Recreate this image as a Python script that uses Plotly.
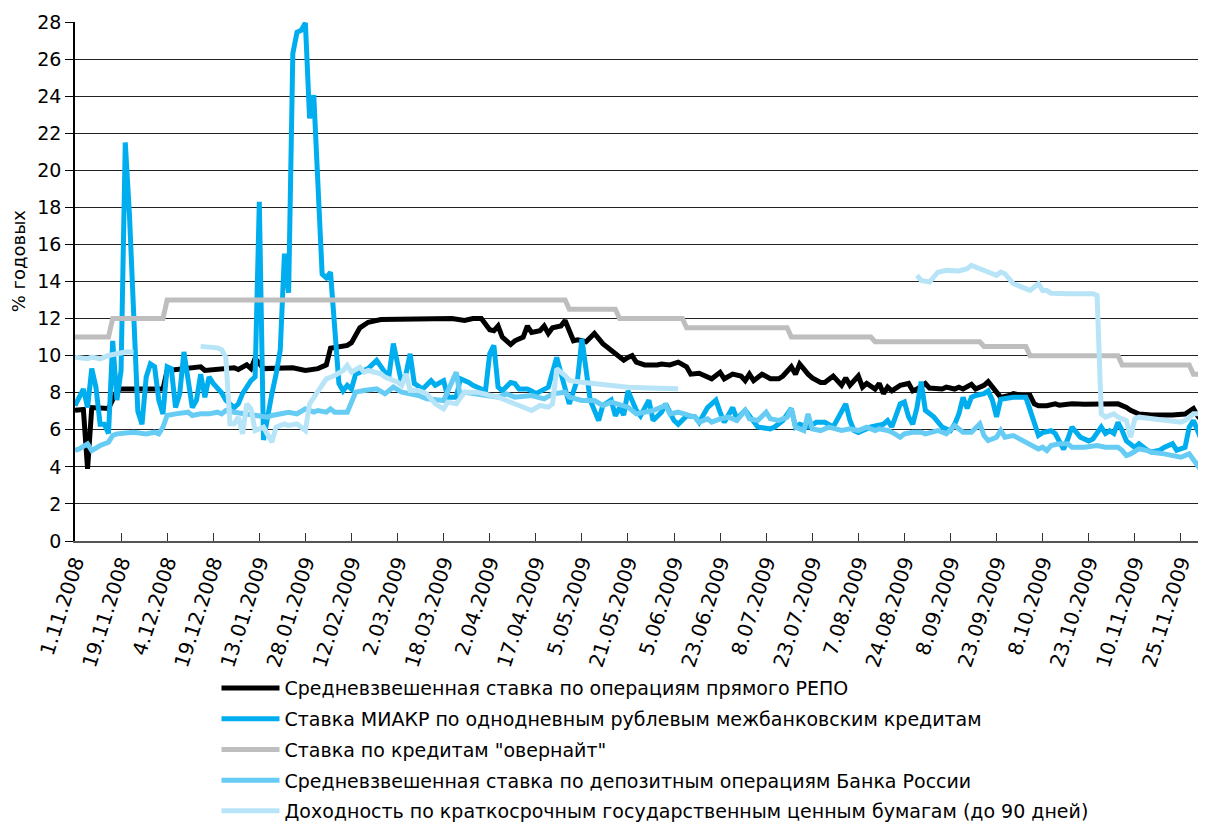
import plotly.graph_objects as go

# ---------------- data ----------------
tick_idx = list(range(0, 265, 11))
tick_labels = ["1.11.2008", "19.11.2008", "4.12.2008", "19.12.2008", "13.01.2009",
               "28.01.2009", "12.02.2009", "2.03.2009", "18.03.2009", "2.04.2009",
               "17.04.2009", "5.05.2009", "21.05.2009", "5.06.2009", "23.06.2009",
               "8.07.2009", "23.07.2009", "7.08.2009", "24.08.2009", "8.09.2009",
               "23.09.2009", "8.10.2009", "23.10.2009", "10.11.2009", "25.11.2009"]

repo_idx = [0, 2, 3, 4, 8, 10, 11, 14, 18, 21, 22, 28, 30, 31, 38, 39, 41, 42, 43, 45, 47, 52, 55, 58,
            60, 61, 65, 66, 68, 70, 73, 89, 90, 93, 95, 97, 99, 100, 101, 102, 104, 105, 107, 108,
            109, 111, 112, 113, 114, 116, 117, 119, 120, 122, 124, 126, 128, 129, 131, 132, 133, 134,
            136, 139, 140, 142, 144, 146, 147, 149, 151, 152, 154, 155, 157, 159, 160, 161, 162, 164,
            166, 168, 169, 171, 172, 173, 175, 176, 178, 179, 181, 182, 183, 184, 185, 187, 188, 189,
            191, 192, 193, 194, 195, 197, 199, 200, 201, 203, 204, 207, 208, 210, 211, 212, 214, 215,
            217, 218, 219, 221, 223, 224, 226, 228, 229, 230, 232, 234, 235, 238, 241, 245, 248, 249,
            251, 252, 254, 257, 262, 265, 267, 268, 269, 270]
repo_val = [7.05, 7.1, 3.9, 7.2, 7.15, 8.1, 8.2, 8.2, 8.25, 8.2, 9.2, 9.3, 9.4, 9.2, 9.35, 9.25, 9.5,
            9.3, 9.85, 9.3, 9.3, 9.35, 9.2, 9.3, 9.5, 10.4, 10.55, 10.7, 11.5, 11.8, 11.95, 12.05, 12.0,
            11.9, 12.0, 12.0, 11.4, 11.35, 11.6, 11.0, 10.6, 10.8, 11.0, 11.6, 11.25, 11.35, 11.6, 11.2,
            11.5, 11.6, 11.9, 10.8, 10.85, 10.75, 11.2, 10.65, 10.3, 10.1, 9.75, 9.9, 10.0, 9.65, 9.5,
            9.5, 9.55, 9.5, 9.65, 9.4, 9.0, 9.05, 8.85, 8.75, 9.1, 8.75, 9.0, 8.9, 8.65, 9.0, 8.65, 9.0,
            8.75, 8.75, 8.9, 9.4, 9.0, 9.55, 9.0, 8.8, 8.55, 8.55, 8.9, 8.65, 8.4, 8.8, 8.4, 8.9, 8.3,
            8.5, 8.2, 8.5, 7.95, 8.3, 8.1, 8.4, 8.5, 8.1, 8.2, 8.5, 8.25, 8.2, 8.3, 8.2, 8.3, 8.2, 8.45,
            8.2, 8.4, 8.6, 8.3, 7.75, 7.85, 7.95, 7.85, 7.85, 7.4, 7.3, 7.3, 7.4, 7.33, 7.4, 7.38, 7.4,
            7.38, 7.4, 7.2, 7.05, 6.85, 6.8, 6.8, 6.85, 7.15, 6.75, 6.5, 6.6]

miakr_idx = [0, 2, 3, 4, 5, 6, 7, 8, 9, 10, 11, 12, 13, 15, 16, 17, 18, 19, 20, 21, 22, 23, 24, 25,
             26, 27, 28, 29, 30, 31, 32, 33, 35, 36, 38, 39, 40, 41, 42, 43, 44, 45, 46, 47, 48, 49,
             50, 51, 52, 53, 54, 55, 56, 57, 59, 60, 61, 63, 64, 65, 66, 67, 70, 71, 72, 74, 75, 76,
             77, 78, 79, 80, 81, 83, 85, 86, 88, 89, 91, 92, 94, 95, 97, 98, 99, 100, 101, 102, 104,
             105, 106, 108, 109, 110, 113, 115, 118, 120, 121, 122, 123, 125, 126, 128, 129, 130, 131,
             132, 134, 135, 137, 138, 140, 141, 143, 144, 146, 148, 149, 151, 153, 154, 155, 157, 158,
             160, 162, 163, 166, 167, 169, 171, 172, 173, 175, 177, 179, 181, 184, 185, 186, 187, 190,
             193, 194, 195, 197, 198, 199, 200, 201, 202, 203, 204, 205, 207, 209, 210, 211, 212, 213,
             214, 215, 217, 218, 219, 220, 221, 224, 227, 229, 230, 231, 233, 234, 236, 237, 238, 240,
             242, 243, 245, 246, 247, 248, 249, 250, 251, 253, 254, 256, 257, 259, 260, 262, 263, 265,
             266, 267, 268, 269, 270]
miakr_val = [7.3, 8.2, 7.2, 9.3, 8.3, 6.3, 6.3, 5.8, 10.8, 7.6, 9.2, 21.5, 17.6, 7.0, 6.3, 8.85, 9.55,
             9.4, 7.6, 6.85, 9.4, 9.3, 7.2, 7.95, 10.2, 8.85, 7.2, 7.6, 9.0, 7.75, 8.85, 8.5, 8.0, 7.6,
             7.2, 7.4, 7.95, 8.3, 8.65, 8.85, 18.3, 5.45, 6.85, 7.95, 9.0, 10.3, 15.5, 13.4, 26.3, 27.45,
             27.55, 27.95, 22.8, 24.05, 14.4, 14.2, 14.5, 8.5, 8.1, 8.4, 8.2, 9.0, 9.3, 9.55, 9.75, 9.1,
             9.0, 10.65, 9.45, 8.5, 9.0, 10.1, 8.5, 8.2, 8.65, 8.4, 8.65, 7.75, 7.75, 8.75, 8.55, 8.4,
             8.2, 8.1, 10.1, 10.55, 8.3, 8.1, 8.55, 8.5, 8.2, 8.2, 8.1, 7.95, 8.3, 9.9, 7.4, 8.75, 10.9,
             9.0, 7.6, 6.5, 7.3, 7.6, 6.75, 7.2, 6.8, 8.1, 7.05, 6.75, 7.6, 6.5, 6.95, 7.4, 6.5, 6.3,
             6.75, 6.7, 6.4, 7.2, 7.6, 6.95, 6.4, 7.2, 6.6, 7.05, 6.4, 6.15, 6.05, 6.15, 6.5, 7.15, 6.15,
             6.3, 6.15, 6.4, 6.4, 6.15, 7.4, 6.5, 5.95, 5.85, 6.15, 6.3, 6.5, 6.15, 7.4, 7.5, 6.7, 6.3,
             7.2, 8.6, 7.05, 6.85, 6.7, 6.15, 5.95, 6.3, 6.85, 7.75, 7.15, 7.75, 7.85, 7.95, 8.1, 7.6,
             6.7, 7.65, 7.75, 7.75, 6.3, 5.7, 5.85, 5.95, 5.8, 4.95, 5.5, 6.15, 5.6, 5.4, 5.5, 6.15,
             5.8, 5.95, 5.8, 6.4, 5.95, 5.4, 5.05, 5.25, 4.9, 4.8, 4.9, 5.05, 5.25, 4.9, 5.05, 6.15,
             6.5, 5.85, 5.4, 5.45]

overnight_idx = [0, 8, 9, 21, 22, 117, 118, 129, 130, 145, 146, 170, 171, 190, 191, 216, 217, 227,
                 228, 249, 250, 266, 267, 270]
overnight_val = [11, 11, 12, 12, 13, 13, 12.5, 12.5, 12, 12, 11.5, 11.5, 11, 11, 10.75, 10.75, 10.5,
                 10.5, 10, 10, 9.5, 9.5, 9, 9]

deposit_idx = [0, 1, 3, 4, 6, 8, 9, 10, 14, 16, 17, 19, 20, 21, 22, 24, 27, 28, 30, 32, 34, 35, 36,
               38, 41, 44, 46, 47, 49, 51, 53, 55, 57, 58, 60, 61, 62, 65, 66, 67, 69, 72, 74, 76,
               78, 82, 84, 88, 91, 92, 93, 96, 98, 101, 103, 105, 109, 112, 114, 117, 118, 121, 124,
               126, 128, 131, 132, 134, 136, 138, 141, 142, 144, 148, 149, 151, 152, 154, 156, 158,
               160, 161, 163, 165, 166, 168, 170, 171, 172, 174, 175, 176, 178, 180, 183, 185, 187,
               189, 191, 192, 194, 195, 197, 198, 200, 202, 203, 205, 206, 208, 210, 212, 214, 216,
               217, 218, 220, 221, 222, 224, 227, 228, 230, 231, 232, 233, 235, 237, 238, 241, 244,
               246, 249, 250, 251, 252, 254, 256, 257, 260, 262, 264, 266, 267, 268, 269, 270]
deposit_val = [4.88, 4.97, 5.24, 4.88, 5.15, 5.33, 5.69, 5.78, 5.87, 5.78, 5.78, 5.87, 5.78, 6.14,
               6.77, 6.86, 6.95, 6.77, 6.86, 6.86, 6.95, 6.86, 7.04, 6.95, 6.86, 6.77, 6.68, 6.77,
               6.86, 6.95, 6.86, 7.13, 6.95, 7.04, 6.95, 7.13, 6.95, 6.95, 7.49, 8.03, 8.12, 8.21,
               7.94, 8.3, 8.03, 7.85, 7.67, 7.58, 9.11, 7.76, 8.03, 7.94, 7.85, 7.76, 7.94, 7.76,
               7.85, 7.67, 7.94, 8.03, 7.76, 7.58, 7.58, 7.31, 7.49, 7.31, 7.22, 6.86, 6.95, 7.04,
               7.31, 6.86, 6.95, 6.68, 6.41, 6.59, 6.41, 6.59, 6.68, 6.5, 7.04, 6.59, 6.5, 6.95, 6.59,
               6.5, 6.68, 7.13, 6.14, 5.96, 6.86, 6.05, 5.96, 6.14, 5.96, 6.05, 5.96, 6.14, 5.96,
               6.05, 5.96, 5.87, 5.6, 5.78, 5.87, 5.87, 5.78, 5.87, 5.96, 5.78, 6.23, 5.87, 5.87,
               6.32, 5.69, 5.42, 5.6, 5.96, 5.6, 5.69, 5.33, 5.24, 4.97, 5.06, 4.88, 5.15, 5.24, 5.24,
               5.06, 5.06, 5.15, 5.06, 5.06, 4.88, 4.61, 4.7, 4.97, 4.88, 4.79, 4.7, 4.61, 4.52, 4.7,
               4.43, 4.07, 4.43, 4.52]

bonds_idx = [0, 3, 4, 6, 8, 10, 12, 14, 20, 30, 32, 34, 35, 36, 37, 38, 39, 40, 41, 42, 43, 45, 47,
             48, 50, 51, 53, 55, 56, 59, 60, 62, 64, 65, 66, 68, 69, 70, 73, 74, 77, 78, 79, 80, 82,
             84, 86, 88, 89, 91, 93, 96, 98, 100, 101, 103, 104, 108, 109, 111, 113, 114, 115, 117,
             118, 121, 125, 128, 131, 132, 137, 144, 180, 201, 202, 204, 206, 208, 211, 213, 214,
             216, 218, 220, 221, 222, 224, 225, 227, 228, 230, 231, 232, 233, 237, 243, 244, 245,
             246, 248, 249, 251, 252, 253, 254, 257, 260, 264, 265, 267, 268, 270]
bonds_val = [9.92, 9.83, 9.92, 9.83, 10.01, 10.1, 10.19, 10.19, None, 10.5, 10.46, 10.42, 10.32,
             9.92, 6.32, 6.32, 6.68, 5.78, 7.4, 7.13, 5.96, 6.14, 5.33, 6.14, 6.32, 6.23, 6.32,
             5.96, 7.4, 8.48, 8.75, 8.93, 9.2, 9.47, 9.11, 9.38, 9.11, 9.2, 9.02, 8.84, 8.57, 8.39,
             9.02, 8.12, 8.12, 7.94, 7.4, 7.13, 7.49, 7.4, 8.03, 8.03, 7.94, 7.85, 7.76, 7.58, 7.49,
             7.13, 7.04, 7.31, 7.22, 7.4, 9.29, 8.93, 8.66, 8.57, 8.48, 8.39, 8.3, 8.3, 8.25, 8.21,
             None, 14.33, 14.06, 13.97, 14.5, 14.6, 14.57, 14.69, 14.87, 14.69, 14.51, 14.33, 14.51,
             14.42, 13.88, 13.79, 13.61, 13.52, 13.88, 13.52, 13.52, 13.37, 13.34, 13.34, 13.25,
             6.86, 6.68, 6.86, 6.68, 6.5, 5.6, 6.59, 6.68, 6.59, 6.5, 6.41, 6.5, 6.86, 6.86, 6.9]

series = [
    ("Средневзвешенная ставка по операциям прямого РЕПО", repo_idx, repo_val, "#000000"),
    ("Ставка МИАКР по однодневным рублевым межбанковским кредитам", miakr_idx, miakr_val, "#00AEEF"),
    ("Ставка по кредитам \"овернайт\"", overnight_idx, overnight_val, "#BEBEBE"),
    ("Средневзвешенная ставка по депозитным операциям Банка России", deposit_idx, deposit_val, "#66CCF4"),
    ("Доходность по краткосрочным государственным ценным бумагам (до 90 дней)", bonds_idx, bonds_val, "#B8E4F8"),
]

y_title = "% годовых"

FONT = "DejaVu Sans"

fig = go.Figure()
for i, (name, xs, ys, color) in enumerate(series):
    fig.add_trace(go.Scatter(
        x=xs, y=ys, name=name, mode="lines",
        line=dict(color=color, width=5, shape="linear"),
        connectgaps=False, legendgroup=f"g{i}",
    ))

# the page body has an 8 px default margin, so the figure is sized to fit the window
fig.update_layout(
    width=1198, height=817,
    margin=dict(l=67, r=0, t=14, b=284, autoexpand=False),
    paper_bgcolor="white", plot_bgcolor="white",
    font=dict(family=FONT, size=19, color="#000000"),
    showlegend=True,
    legend=dict(
        x=0.1251, y=-0.247, xanchor="left", yanchor="top",
        orientation="v", bgcolor="rgba(0,0,0,0)", borderwidth=0,
        font=dict(family=FONT, size=19, color="#000000"),
        itemwidth=58, tracegroupgap=3, traceorder="grouped",
    ),
    xaxis=dict(
        range=[0, 270], tickmode="array", tickvals=tick_idx, ticktext=tick_labels,
        tickangle=-72, ticks="inside", ticklen=8, tickcolor="#333333", tickwidth=1,
        showline=True, linecolor="#555555", linewidth=1.5, showgrid=False, zeroline=False,
        tickfont=dict(family=FONT, size=20, color="#000000"), automargin=False,
    ),
    yaxis=dict(
        range=[0, 28], dtick=2, tick0=0, ticks="outside", ticklen=8, tickcolor="#000000",
        showline=True, linecolor="#000000", linewidth=1.5,
        showgrid=True, gridcolor="#222222", gridwidth=1, zeroline=False,
        tickfont=dict(family=FONT, size=19, color="#000000"), automargin=False,
    ),
    annotations=[dict(
        text=y_title, xref="paper", yref="paper", x=-0.0504, y=0.541,
        xanchor="center", yanchor="middle", textangle=-90, showarrow=False,
        font=dict(family=FONT, size=18, color="#000000"),
    )],
)

fig.write_html("out.html")
